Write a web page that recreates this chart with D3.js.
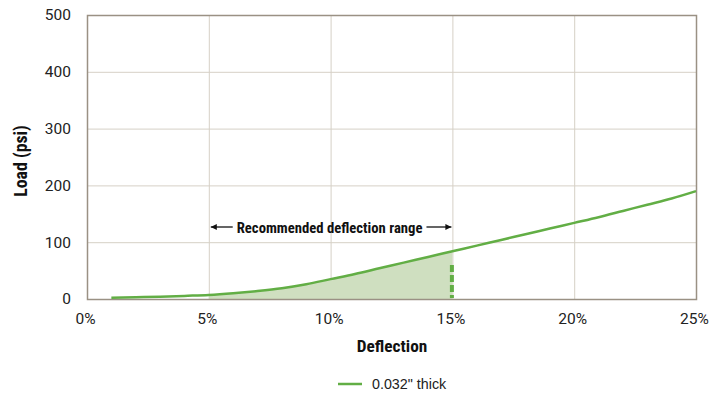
<!DOCTYPE html>
<html><head><meta charset="utf-8">
<script src="https://cdn.jsdelivr.net/npm/d3@7"></script>
<style>
body{margin:0;background:#fff;}
svg{display:block;}
</style></head>
<body><svg id="c" width="710" height="396"></svg>
<script>
const deflection = [1,2,3,4,5,6,7,8,9,10,11,12,13,14,15,16,17,18,19,20,21,22,23,24,25];
const load = [2,3,4,5.5,7,10,14,19,26,35,44,54,64,74,84,94,104,114,124,134,144,155,166,177,190];
const xTicks = [0,5,10,15,20,25];
const yTicks = [0,100,200,300,400,500];
const rangeStart = 5, rangeEnd = 15;
const seriesName = "0.032\" thick";
const annotation = "Recommended deflection range";

const condensed = '"Roboto Condensed", Roboto, sans-serif';
const svg = d3.select("#c");
const m = {l:87, r:696, t:15, b:299};
const x = d3.scaleLinear().domain([0,25]).range([m.l,m.r]);
const y = d3.scaleLinear().domain([0,500]).range([m.b,m.t]);
const green = "#62ae45", grid = "#d6d0c6", frame = "#9a9184";

// gridlines
svg.append("g").selectAll("line").data(xTicks.slice(1,-1)).join("line")
  .attr("x1",d=>x(d)+0.5).attr("x2",d=>x(d)+0.5).attr("y1",m.t).attr("y2",m.b)
  .attr("stroke",grid).attr("stroke-width",1);
svg.append("g").selectAll("line").data(yTicks.slice(1,-1)).join("line")
  .attr("x1",m.l).attr("x2",m.r).attr("y1",d=>y(d)+0.5).attr("y2",d=>y(d)+0.5)
  .attr("stroke",grid).attr("stroke-width",1);

const pts = deflection.map((d,i)=>({x:d,y:load[i]}));
const curve = d3.curveMonotoneX;
// shaded area
const inRange = pts.filter(p=>p.x>=rangeStart && p.x<=rangeEnd);
svg.append("path").datum(inRange)
  .attr("d", d3.area().x(d=>x(d.x)).y0(y(0)).y1(d=>y(d.y)).curve(curve))
  .attr("fill","#cfdfc0");

// frame
svg.append("rect").attr("x",m.l+0.5).attr("y",m.t+0.5).attr("width",m.r-m.l).attr("height",m.b-m.t)
  .attr("fill","none").attr("stroke",frame).attr("stroke-width",1.5);

// dashed marker at range end
svg.append("line").attr("x1",x(rangeEnd)-0.5).attr("x2",x(rangeEnd)-0.5)
  .attr("y1",y(60)).attr("y2",y(0)-1)
  .attr("stroke",green).attr("stroke-width",4).attr("stroke-dasharray","7,3");

// line
svg.append("path").datum(pts)
  .attr("d", d3.line().x(d=>x(d.x)).y(d=>y(d.y)).curve(curve))
  .attr("fill","none").attr("stroke",green).attr("stroke-width",2.5);

// axes
const xAxis = d3.axisBottom(x).tickValues(xTicks).tickFormat(d=>d+"%").tickSize(0).tickPadding(14);
const gx = svg.append("g").attr("transform",`translate(0,${m.b})`).call(xAxis);
gx.select(".domain").remove();
gx.selectAll("text").attr("font-size",15.5).attr("fill","#222").attr("font-family","Roboto, sans-serif")
  .attr("dx",-2);
const yAxis = d3.axisLeft(y).tickValues(yTicks).tickSize(0).tickPadding(16);
const gy = svg.append("g").attr("transform",`translate(${m.l},0)`).call(yAxis);
gy.select(".domain").remove();
gy.selectAll("text").attr("font-size",15.5).attr("fill","#222").attr("font-family","Roboto, sans-serif");
gx.attr("font-family",null); gy.attr("font-family",null);

svg.append("text").attr("x",392).attr("y",352).attr("text-anchor","middle")
  .attr("font-size",17.3).attr("font-weight","bold").attr("fill","#111").attr("font-family",condensed).text("Deflection");
svg.append("text").attr("transform",`translate(27,161) rotate(-90)`).attr("text-anchor","middle")
  .attr("font-size",17.8).attr("font-weight","bold").attr("fill","#111").attr("font-family",condensed).text("Load (psi)");

// annotation
const ay = 227;
const mid = (x(rangeStart)+x(rangeEnd))/2 - 1;
const at = svg.append("text").attr("x",mid).attr("y",232.5).attr("text-anchor","middle")
  .attr("font-size",14.7).attr("font-weight","bold").attr("fill","#111").attr("font-family",condensed).text(annotation);
const tw = at.node().getComputedTextLength();
svg.append("defs").append("marker").attr("id","ah").attr("viewBox","0 0 10 10").attr("refX",10).attr("refY",5)
  .attr("markerWidth",10).attr("markerHeight",6).attr("markerUnits","userSpaceOnUse").attr("orient","auto")
  .append("path").attr("d","M0,0L10,5L0,10Z").attr("fill","#111");
svg.append("line").attr("x1",mid-tw/2-4).attr("x2",x(rangeStart)+2).attr("y1",ay).attr("y2",ay)
  .attr("stroke","#111").attr("stroke-width",1.3).attr("marker-end","url(#ah)");
svg.append("line").attr("x1",mid+tw/2+4).attr("x2",x(rangeEnd)-1).attr("y1",ay).attr("y2",ay)
  .attr("stroke","#111").attr("stroke-width",1.3).attr("marker-end","url(#ah)");

// legend
svg.append("line").attr("x1",338).attr("x2",362).attr("y1",384).attr("y2",384)
  .attr("stroke",green).attr("stroke-width",2.5);
svg.append("text").attr("x",372).attr("y",389).attr("font-size",14.3).attr("fill","#222")
  .attr("font-family",'"Liberation Sans", Arial, sans-serif').text(seriesName);
</script></body></html>
